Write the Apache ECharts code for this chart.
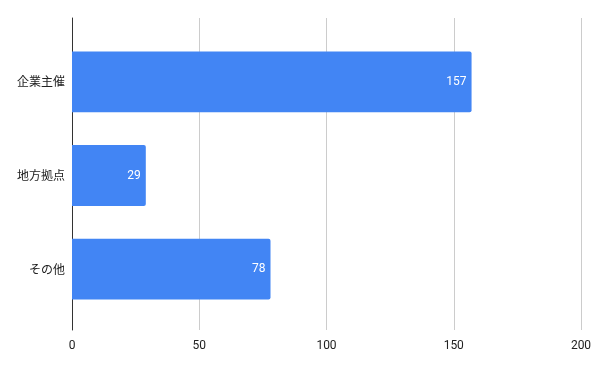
<!DOCTYPE html>
<html><head><meta charset="utf-8">
<script src="https://cdn.jsdelivr.net/npm/echarts@6/dist/echarts.min.js"></script>
<style>html,body{margin:0;padding:0;background:#fff}#c{width:600px;height:371px}</style>
</head><body><div id="c"></div>
<script>
const categories = ['企業主催', '地方拠点', 'その他'];
const values = [157, 29, 78];
const xTicks = [0, 50, 100, 150, 200];

const chart = echarts.init(document.getElementById('c'));
chart.setOption({
  animation: false,
  grid: [
    { left: 72, right: 19, top: 18, bottom: 41, containLabel: false },
    { left: 72, right: 19, top: 35, bottom: 55, containLabel: false }
  ],
  xAxis: [{
    gridIndex: 0, type: 'value', min: xTicks[0], max: xTicks[xTicks.length - 1], interval: 50,
    axisLine: { show: false }, axisTick: { show: false },
    splitLine: { lineStyle: { color: '#cccccc', width: 1 } },
    axisLabel: { color: '#222', fontSize: 12, fontFamily: 'Roboto, Arial, sans-serif', margin: 10 }
  }, {
    gridIndex: 1, type: 'value', min: xTicks[0], max: xTicks[xTicks.length - 1], interval: 50,
    show: false
  }],
  yAxis: [{
    gridIndex: 0, type: 'value', min: 0, max: 1,
    axisLine: { show: true, lineStyle: { color: '#333', width: 1 } },
    axisTick: { show: false }, axisLabel: { show: false }, splitLine: { show: false }
  }, {
    gridIndex: 1, type: 'category', data: categories, inverse: true,
    axisLine: { show: false },
    axisTick: { show: false },
    axisLabel: { color: '#222', fontSize: 12, fontFamily: '"Noto Sans CJK JP", sans-serif', margin: 7 }
  }],
  series: [{
    type: 'bar', xAxisIndex: 1, yAxisIndex: 1, data: values, barCategoryGap: '35%',
    itemStyle: { color: '#4285f4', borderRadius: [0, 2, 2, 0] },
    label: { show: true, position: 'insideRight', color: '#fff', fontSize: 12, fontFamily: 'Roboto, Arial, sans-serif', distance: 5 }
  }]
});
</script></body></html>
